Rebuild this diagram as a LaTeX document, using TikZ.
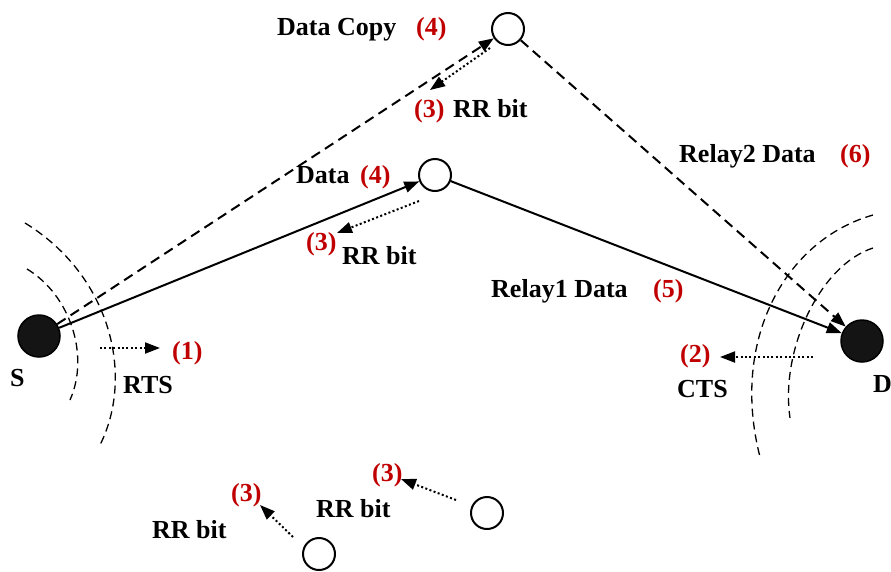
\documentclass[tikz,border=0pt]{standalone}
\usepackage{fontspec}
\setmainfont{Liberation Serif}
\usetikzlibrary{arrows.meta}
\definecolor{numred}{RGB}{192,0,0}
\begin{document}
\begin{tikzpicture}[x=1pt,y=-1pt,
  lbl/.style={font=\fontsize{26}{30}\selectfont\bfseries, anchor=base west, inner sep=0pt},
  num/.style={lbl, text=numred},
  endnode/.style={circle, fill=black!92, draw=black, line width=1.5pt, minimum size=42pt, inner sep=0pt},
  relay/.style={circle, fill=white, draw=black, line width=2pt, minimum size=32pt, inner sep=0pt},
  link/.style={line width=2pt, -{Triangle[length=15pt,width=11pt]}},
  dlink/.style={link, dash pattern=on 10pt off 6pt},
  msg/.style={line width=2pt, dash pattern=on 2pt off 2.4pt, -{Triangle[length=15pt,width=11pt]}},
  radioarc/.style={line width=1.3pt, dash pattern=on 8pt off 5pt}]
\useasboundingbox (0,0) rectangle (891,571);

% range arcs
\draw[radioarc] (25,223) .. controls (110,275) and (135,375) .. (100,445);
\draw[radioarc] (27,269) .. controls (70,295) and (90,355) .. (70,400);
\draw[radioarc] (873,215) .. controls (785,240) and (730,340) .. (760,457);
\draw[radioarc] (873,248) .. controls (820,265) and (780,350) .. (790,418);

% nodes
\node[endnode] (S) at (39,336) {};
\node[endnode] (D) at (862,341) {};
\node[relay] (R1) at (435,175) {};
\node[relay] (R2) at (508,29) {};
\node[relay] (B1) at (487,513) {};
\node[relay] (B2) at (319,554) {};

% links
\draw[link] (S) -- (R1);
\draw[link] (R1) -- (D);
\draw[dlink] (S) -- (R2);
\draw[dlink] (R2) -- (D);

% control messages
\coordinate (rtsA) at (100,348);
\coordinate (rtsB) at (160,348);
\coordinate (ctsA) at (813,357);
\coordinate (ctsB) at (720,357);
\coordinate (r2a) at (490,48);
\coordinate (r2b) at (430,90);
\coordinate (r1a) at (419,201);
\coordinate (r1b) at (337,233);
\coordinate (b1a) at (456,500);
\coordinate (b1b) at (401,479);
\coordinate (b2a) at (293,537);
\coordinate (b2b) at (260,505);
\draw[msg] (rtsA) -- (rtsB);
\draw[msg] (ctsA) -- (ctsB);
\draw[msg] (r2a) -- (r2b);
\draw[msg] (r1a) -- (r1b);
\draw[msg] (b1a) -- (b1b);
\draw[msg] (b2a) -- (b2b);

% labels
\node[lbl] (tS) at (10,386) {S};
\node[lbl] (tD) at (873,392) {D};
\node[lbl] (tDC) at (277,35) {Data Copy};
\node[num] (n4a) at (416,35) {(4)};
\node[num] (n3a) at (414,117) {(3)};
\node[lbl] (tRRa) at (453,117) {RR bit};
\node[lbl] (tData) at (296,183) {Data};
\node[num] (n4b) at (360,183) {(4)};
\node[num] (n3b) at (306,250) {(3)};
\node[lbl] (tRRb) at (342,264) {RR bit};
\node[lbl] (tR2) at (679,162) {Relay2 Data};
\node[num] (n6) at (840,162) {(6)};
\node[lbl] (tR1) at (491,297) {Relay1 Data};
\node[num] (n5) at (653,297) {(5)};
\node[num] (n1) at (172,359) {(1)};
\node[lbl] (tRTS) at (123,393) {RTS};
\node[num] (n2) at (680,362) {(2)};
\node[lbl] (tCTS) at (677,397) {CTS};
\node[num] (n3c) at (372,481) {(3)};
\node[lbl] (tRRc) at (316,517) {RR bit};
\node[num] (n3d) at (231,501) {(3)};
\node[lbl] (tRRd) at (152,538) {RR bit};
\end{tikzpicture}
\end{document}
